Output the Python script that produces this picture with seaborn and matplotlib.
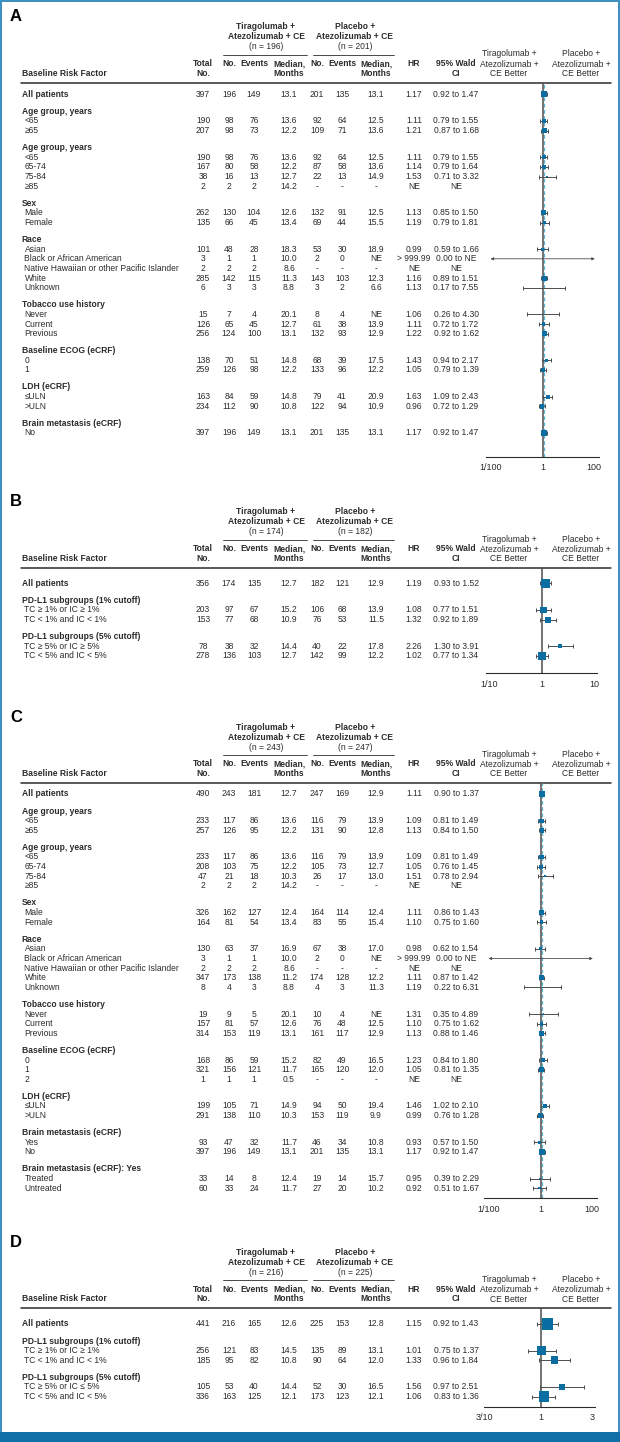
"""
Subgroup forest plots, panels A-D: tiragolumab + atezolizumab + CE vs
placebo + atezolizumab + CE. The table is laid out in figure pixels so the
columns line up with the forest axes on the right.
"""
import matplotlib.pyplot as plt
import matplotlib.ticker as mticker
from matplotlib.patches import Rectangle
import numpy as np
import pandas as pd
import seaborn as sns

# ---------------------------------------------------------------------------
# DATA
# cells: Total, arm-1 No./Events/Median, arm-2 No./Events/Median, HR, 95% CI
# a None row is a subgroup title
# ---------------------------------------------------------------------------
A_arm_n = [196, 201]
A_labels = ["All patients", "Age group, years", "<65", "≥65",
            "Age group, years", "<65", "65-74", "75-84", "≥85",
            "Sex", "Male", "Female",
            "Race", "Asian", "Black or African American",
            "Native Hawaiian or other Pacific Islander", "White", "Unknown",
            "Tobacco use history", "Never", "Current", "Previous",
            "Baseline ECOG (eCRF)", "0", "1",
            "LDH (eCRF)", "≤ULN", ">ULN",
            "Brain metastasis (eCRF)", "No"]
A_cells = [
    ("397", "196", "149", "13.1", "201", "135", "13.1", "1.17", "0.92 to 1.47"),
    None,
    ("190", "98", "76", "13.6", "92", "64", "12.5", "1.11", "0.79 to 1.55"),
    ("207", "98", "73", "12.2", "109", "71", "13.6", "1.21", "0.87 to 1.68"),
    None,
    ("190", "98", "76", "13.6", "92", "64", "12.5", "1.11", "0.79 to 1.55"),
    ("167", "80", "58", "12.2", "87", "58", "13.6", "1.14", "0.79 to 1.64"),
    ("38", "16", "13", "12.7", "22", "13", "14.9", "1.53", "0.71 to 3.32"),
    ("2", "2", "2", "14.2", "-", "-", "-", "NE", "NE"),
    None,
    ("262", "130", "104", "12.6", "132", "91", "12.5", "1.13", "0.85 to 1.50"),
    ("135", "66", "45", "13.4", "69", "44", "15.5", "1.19", "0.79 to 1.81"),
    None,
    ("101", "48", "28", "18.3", "53", "30", "18.9", "0.99", "0.59 to 1.66"),
    ("3", "1", "1", "10.0", "2", "0", "NE", "> 999.99", "0.00 to NE"),
    ("2", "2", "2", "8.6", "-", "-", "-", "NE", "NE"),
    ("285", "142", "115", "11.3", "143", "103", "12.3", "1.16", "0.89 to 1.51"),
    ("6", "3", "3", "8.8", "3", "2", "6.6", "1.13", "0.17 to 7.55"),
    None,
    ("15", "7", "4", "20.1", "8", "4", "NE", "1.06", "0.26 to 4.30"),
    ("126", "65", "45", "12.7", "61", "38", "13.9", "1.11", "0.72 to 1.72"),
    ("256", "124", "100", "13.1", "132", "93", "12.9", "1.22", "0.92 to 1.62"),
    None,
    ("138", "70", "51", "14.8", "68", "39", "17.5", "1.43", "0.94 to 2.17"),
    ("259", "126", "98", "12.2", "133", "96", "12.2", "1.05", "0.79 to 1.39"),
    None,
    ("163", "84", "59", "14.8", "79", "41", "20.9", "1.63", "1.09 to 2.43"),
    ("234", "112", "90", "10.8", "122", "94", "10.9", "0.96", "0.72 to 1.29"),
    None,
    ("397", "196", "149", "13.1", "201", "135", "13.1", "1.17", "0.92 to 1.47"),
]
A_ticks = [0.01, 1, 100]
A_tick_labels = ["1/100", "1", "100"]

B_arm_n = [174, 182]
B_labels = ["All patients", "PD-L1 subgroups (1% cutoff)",
            "TC ≥ 1% or IC ≥ 1%", "TC < 1% and IC < 1%",
            "PD-L1 subgroups (5% cutoff)",
            "TC ≥ 5% or IC ≥ 5%", "TC < 5% and IC < 5%"]
B_cells = [
    ("356", "174", "135", "12.7", "182", "121", "12.9", "1.19", "0.93 to 1.52"),
    None,
    ("203", "97", "67", "15.2", "106", "68", "13.9", "1.08", "0.77 to 1.51"),
    ("153", "77", "68", "10.9", "76", "53", "11.5", "1.32", "0.92 to 1.89"),
    None,
    ("78", "38", "32", "14.4", "40", "22", "17.8", "2.26", "1.30 to 3.91"),
    ("278", "136", "103", "12.7", "142", "99", "12.2", "1.02", "0.77 to 1.34"),
]
B_ticks = [0.1, 1, 10]
B_tick_labels = ["1/10", "1", "10"]

C_arm_n = [243, 247]
C_labels = ["All patients", "Age group, years", "<65", "≥65",
            "Age group, years", "<65", "65-74", "75-84", "≥85",
            "Sex", "Male", "Female",
            "Race", "Asian", "Black or African American",
            "Native Hawaiian or other Pacific Islander", "White", "Unknown",
            "Tobacco use history", "Never", "Current", "Previous",
            "Baseline ECOG (eCRF)", "0", "1", "2",
            "LDH (eCRF)", "≤ULN", ">ULN",
            "Brain metastasis (eCRF)", "Yes", "No",
            "Brain metastasis (eCRF): Yes", "Treated", "Untreated"]
C_cells = [
    ("490", "243", "181", "12.7", "247", "169", "12.9", "1.11", "0.90 to 1.37"),
    None,
    ("233", "117", "86", "13.6", "116", "79", "13.9", "1.09", "0.81 to 1.49"),
    ("257", "126", "95", "12.2", "131", "90", "12.8", "1.13", "0.84 to 1.50"),
    None,
    ("233", "117", "86", "13.6", "116", "79", "13.9", "1.09", "0.81 to 1.49"),
    ("208", "103", "75", "12.2", "105", "73", "12.7", "1.05", "0.76 to 1.45"),
    ("47", "21", "18", "10.3", "26", "17", "13.0", "1.51", "0.78 to 2.94"),
    ("2", "2", "2", "14.2", "-", "-", "-", "NE", "NE"),
    None,
    ("326", "162", "127", "12.4", "164", "114", "12.4", "1.11", "0.86 to 1.43"),
    ("164", "81", "54", "13.4", "83", "55", "15.4", "1.10", "0.75 to 1.60"),
    None,
    ("130", "63", "37", "16.9", "67", "38", "17.0", "0.98", "0.62 to 1.54"),
    ("3", "1", "1", "10.0", "2", "0", "NE", "> 999.99", "0.00 to NE"),
    ("2", "2", "2", "8.6", "-", "-", "-", "NE", "NE"),
    ("347", "173", "138", "11.2", "174", "128", "12.2", "1.11", "0.87 to 1.42"),
    ("8", "4", "3", "8.8", "4", "3", "11.3", "1.19", "0.22 to 6.31"),
    None,
    ("19", "9", "5", "20.1", "10", "4", "NE", "1.31", "0.35 to 4.89"),
    ("157", "81", "57", "12.6", "76", "48", "12.5", "1.10", "0.75 to 1.62"),
    ("314", "153", "119", "13.1", "161", "117", "12.9", "1.13", "0.88 to 1.46"),
    None,
    ("168", "86", "59", "15.2", "82", "49", "16.5", "1.23", "0.84 to 1.80"),
    ("321", "156", "121", "11.7", "165", "120", "12.0", "1.05", "0.81 to 1.35"),
    ("1", "1", "1", "0.5", "-", "-", "-", "NE", "NE"),
    None,
    ("199", "105", "71", "14.9", "94", "50", "19.4", "1.46", "1.02 to 2.10"),
    ("291", "138", "110", "10.3", "153", "119", "9.9", "0.99", "0.76 to 1.28"),
    None,
    ("93", "47", "32", "11.7", "46", "34", "10.8", "0.93", "0.57 to 1.50"),
    ("397", "196", "149", "13.1", "201", "135", "13.1", "1.17", "0.92 to 1.47"),
    None,
    ("33", "14", "8", "12.4", "19", "14", "15.7", "0.95", "0.39 to 2.29"),
    ("60", "33", "24", "11.7", "27", "20", "10.2", "0.92", "0.51 to 1.67"),
]
C_ticks = [0.01, 1, 100]
C_tick_labels = ["1/100", "1", "100"]

D_arm_n = [216, 225]
D_labels = ["All patients", "PD-L1 subgroups (1% cutoff)",
            "TC ≥ 1% or IC ≥ 1%", "TC < 1% and IC < 1%",
            "PD-L1 subgroups (5% cutoff)",
            "TC ≥ 5% or IC ≤ 5%", "TC < 5% and IC < 5%"]
D_cells = [
    ("441", "216", "165", "12.6", "225", "153", "12.8", "1.15", "0.92 to 1.43"),
    None,
    ("256", "121", "83", "14.5", "135", "89", "13.1", "1.01", "0.75 to 1.37"),
    ("185", "95", "82", "10.8", "90", "64", "12.0", "1.33", "0.96 to 1.84"),
    None,
    ("105", "53", "40", "14.4", "52", "30", "16.5", "1.56", "0.97 to 2.51"),
    ("336", "163", "125", "12.1", "173", "123", "12.1", "1.06", "0.83 to 1.36"),
]
D_ticks = [0.3, 1, 3]
D_tick_labels = ["3/10", "1", "3"]

ARMS = ["Tiragolumab +", "Placebo +"]
BETTER = [["Tiragolumab +", "Atezolizumab +", "CE Better"],
          ["Placebo +", "Atezolizumab +", "CE Better"]]
COL_HEAD = [("Total", "No."), ("No.", ""), ("Events", ""), ("Median,", "Months"),
            ("No.", ""), ("Events", ""), ("Median,", "Months"), ("HR", ""),
            ("95% Wald", "CI")]

# ---------------------------------------------------------------------------
# STYLE / LAYOUT (figure pixels, y down)
# ---------------------------------------------------------------------------
W, H, DPI = 620, 1442, 100
FS = 6.15
INK = "#2b2b2b"
GREY = "#4d4d4d"
BLUE = "#0a6ea2"
DASH = "#5cb6d4"
FRAME = "#3a8cc0"
BAR = "#0f70a8"

COL_X = [203, 229, 254, 289, 317, 342, 376, 414, 456]
ARM_X = [(266, 223, 307), (355, 313, 394)]
BETTER_X = [509, 581]

PANELS = [
    dict(letter="A", labels=A_labels, cells=A_cells, arm_n=A_arm_n,
         ticks=A_ticks, tick_labels=A_tick_labels,
         thick=82.7, first=11.6, spine=457, ax_x=(486, 599), dec=2.19,
         k=0.30, dashed=True),
    dict(letter="B", labels=B_labels, cells=B_cells, arm_n=B_arm_n,
         ticks=B_ticks, tick_labels=B_tick_labels,
         thick=567.7, first=15.6, spine=673.3, ax_x=(486, 597), dec=1.05,
         k=0.48, dashed=False),
    dict(letter="C", labels=C_labels, cells=C_cells, arm_n=C_arm_n,
         ticks=C_ticks, tick_labels=C_tick_labels,
         thick=783, first=11.0, spine=1198.3, ax_x=(484, 597), dec=2.19,
         k=0.28, dashed=True),
    dict(letter="D", labels=D_labels, cells=D_cells, arm_n=D_arm_n,
         ticks=D_ticks, tick_labels=D_tick_labels,
         thick=1308.3, first=15.7, spine=1406.7, ax_x=(484, 595),
         lim=(0.296, 3.16), k=0.56, dashed=False),
]

sns.set_style("white")
plt.rcParams["font.family"] = ["Liberation Sans", "DejaVu Sans"]
plt.rcParams["font.size"] = FS


def to_num(s):
    try:
        return float(s)
    except ValueError:
        return np.nan


def row_positions(cells, y0, step=9.65, gap=17.0):
    ys, y = [], y0
    for i, c in enumerate(cells):
        if i:
            y += gap if c is None else step
        ys.append(y)
    return ys


def draw_table(bg, p, ys):
    T = p["thick"]
    txt = dict(color=INK, va="center", fontsize=FS)
    bg.text(10, T - 66, p["letter"], fontsize=12, fontweight="bold",
            color="black", va="center", ha="left")
    for (cx, x0, x1), arm, n in zip(ARM_X, ARMS, p["arm_n"]):
        bg.text(cx, T - 56, arm, ha="center", fontweight="bold", **txt)
        bg.text(cx, T - 46, "Atezolizumab + CE", ha="center",
                fontweight="bold", **txt)
        bg.text(cx, T - 36, f"(n = {n})", ha="center", **txt)
        bg.plot([x0, x1], [T - 28, T - 28], color=INK, lw=0.6)
    for cx, lines in zip(BETTER_X, BETTER):
        for dy, s in zip([-28.7, -18.6, -9.2], lines):
            bg.text(cx, T + dy, s, ha="center", **txt)
    for cx, (l1, l2) in zip(COL_X, COL_HEAD):
        bg.text(cx, T - 19, l1, ha="center", fontweight="bold", **txt)
        if l2:
            bg.text(cx, T - 9.5, l2, ha="center", fontweight="bold", **txt)
    bg.text(21.5, T - 9.5, "Baseline Risk Factor", ha="left",
            fontweight="bold", **txt)
    bg.plot([21, 611], [T, T], color=INK, lw=1.1)

    for i, (y, lab, c) in enumerate(zip(ys, p["labels"], p["cells"])):
        bold = c is None or i == 0
        bg.text(21.5 if bold else 24.5, y, lab, ha="left",
                fontweight="bold" if bold else "normal", **txt)
        if c is None:
            continue
        for cx, s in zip(COL_X, c):
            bg.text(cx, y, s, ha="center", **txt)


def draw_forest(fig, p, ys):
    T, S = p["thick"], p["spine"]
    x0, x1 = p["ax_x"]
    ax = fig.add_axes([x0 / W, 1 - S / H, (x1 - x0) / W, (S - T) / H])
    ax.patch.set_alpha(0)
    ax.set_xscale("log")
    lim = p.get("lim", (10 ** -p.get("dec", 1), 10 ** p.get("dec", 1)))
    ax.set_xlim(lim)
    ax.set_ylim(S, T)

    rows = [(y, c) for y, c in zip(ys, p["cells"]) if c is not None]
    ci = [c[8].split(" to ") for _, c in rows]
    df = pd.DataFrame({
        "y": [y for y, _ in rows],
        "n": [int(c[0]) for _, c in rows],
        "hr": [to_num(c[7]) for _, c in rows],
        "lo": [to_num(v[0]) if len(v) == 2 else np.nan for v in ci],
        "hi": [to_num(v[1]) if len(v) == 2 else np.nan for v in ci],
    })

    ax.axvline(1, color=GREY, lw=1.1, zorder=2)
    if p["dashed"]:
        ax.axvline(df["hr"].iloc[0], color=DASH, lw=0.9, ls=(0, (3, 2)),
                   zorder=1)

    pts = df.dropna(subset=["hr", "lo", "hi"])
    ax.errorbar(pts["hr"], pts["y"],
                xerr=[pts["hr"] - pts["lo"], pts["hi"] - pts["hr"]],
                fmt="none", ecolor=GREY, elinewidth=0.7, capsize=1.2,
                capthick=0.7, zorder=3)
    nmax = df["n"].max()
    area_max = (p["k"] * np.sqrt(nmax) * 0.72) ** 2
    sns.scatterplot(data=pts, x="hr", y="y", size="n", sizes=(0, area_max),
                    size_norm=(0, nmax), marker="s", color=BLUE,
                    linewidth=0, legend=False, ax=ax, zorder=4)

    # CI running off both ends (0.00 to NE)
    for y in df.loc[(df["lo"] == 0) & df["hi"].isna(), "y"]:
        ax.annotate("", xy=(lim[0] * 1.5, y), xytext=(lim[1] / 1.45, y),
                    arrowprops=dict(arrowstyle="<|-|>", color=GREY, lw=0.6,
                                    mutation_scale=4, shrinkA=0, shrinkB=0))

    ax.xaxis.set_major_locator(mticker.FixedLocator(p["ticks"]))
    ax.xaxis.set_major_formatter(mticker.FixedFormatter(p["tick_labels"]))
    ax.xaxis.set_minor_locator(
        mticker.LogLocator(base=10, subs=np.arange(1, 10), numticks=60))
    ax.xaxis.set_minor_formatter(mticker.NullFormatter())
    ax.tick_params(axis="x", which="major", direction="out", length=3,
                   width=0.7, pad=1.6, labelsize=FS + 0.3, colors=INK)
    ax.tick_params(axis="x", which="minor", direction="out", length=1.8,
                   width=0.5, colors=INK)
    ax.set_yticks([])
    ax.set_xlabel("")
    ax.set_ylabel("")
    sns.despine(ax=ax, left=True)
    ax.spines["bottom"].set_color(INK)
    ax.spines["bottom"].set_linewidth(0.8)


def main():
    fig = plt.figure(figsize=(W / DPI, H / DPI), dpi=DPI)
    bg = fig.add_axes([0, 0, 1, 1])
    bg.set_xlim(0, W)
    bg.set_ylim(H, 0)
    bg.axis("off")
    bg.add_patch(Rectangle((0.8, 0.8), W - 1.6, H - 10, fill=False,
                           ec=FRAME, lw=1.4))
    bg.add_patch(Rectangle((0, H - 10.5), W, 10.5, fc=BAR, ec="none"))

    for p in PANELS:
        ys = row_positions(p["cells"], p["thick"] + p["first"])
        draw_table(bg, p, ys)
        draw_forest(fig, p, ys)

    fig.savefig("out.png", dpi=DPI)
    plt.close(fig)


if __name__ == "__main__":
    main()
